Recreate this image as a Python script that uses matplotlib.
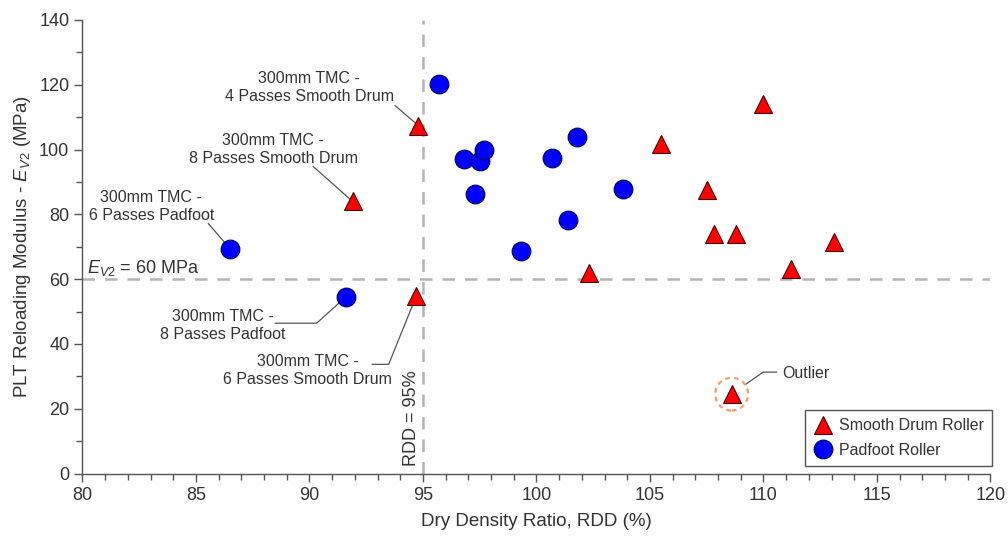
import numpy as np
import matplotlib
matplotlib.use('Agg')
import matplotlib.pyplot as plt
from matplotlib.lines import Line2D

plt.rcParams['font.family'] = ['Liberation Sans', 'DejaVu Sans']
plt.rcParams['mathtext.fontset'] = 'custom'
plt.rcParams['mathtext.rm'] = 'Liberation Sans'
plt.rcParams['mathtext.it'] = 'Liberation Sans:italic'

# datos
smooth_rdd = [94.8, 91.9, 94.7, 102.3, 105.5, 107.5, 107.8, 108.8, 110.0, 111.2, 113.1, 108.6]
smooth_ev2 = [107.4, 84.0, 54.7, 62.0, 101.7, 87.4, 74.0, 74.0, 114.1, 63.0, 71.4, 24.5]
padfoot_rdd = [95.7, 96.8, 97.5, 97.7, 97.3, 99.3, 100.7, 101.8, 101.4, 103.8, 86.5, 91.6]
padfoot_ev2 = [120.3, 97.2, 96.6, 100.0, 86.4, 68.6, 97.4, 103.8, 78.4, 87.7, 69.4, 54.5]

ev2_limit = 60
rdd_limit = 95
outlier_idx = 11

txt_color = '#333333'
ax_color = '#555555'
grey_dash = '#b4b4b4'

fig = plt.figure(figsize=(10.08, 5.39), dpi=100)
ax = fig.add_axes([0.0818, 0.1215, 0.9008, 0.8414])

ax.set_xlim(80, 120)
ax.set_ylim(0, 140)
ax.set_xticks(np.arange(80, 121, 5))
ax.set_xticks(np.arange(80, 121, 1), minor=True)
ax.set_yticks(np.arange(0, 141, 20))
ax.set_yticks(np.arange(0, 141, 10), minor=True)
ax.spines['top'].set_visible(False)
ax.spines['right'].set_visible(False)
for s in ['left', 'bottom']:
    ax.spines[s].set_color(ax_color)
    ax.spines[s].set_linewidth(1.0)
ax.tick_params(which='major', direction='out', length=6, width=1, color=ax_color,
               labelcolor=txt_color, labelsize=13)
ax.tick_params(which='minor', direction='out', length=4, width=1, color=ax_color)

ax.set_xlabel('Dry Density Ratio, RDD (%)', fontsize=13.5, color=txt_color, labelpad=7)
ax.set_ylabel(r'PLT Reloading Modulus - $E_{V2}$ (MPa)', fontsize=13.5, color=txt_color, labelpad=4)

# lineas de referencia
ax.axhline(ev2_limit, color=grey_dash, lw=1.8, dashes=(5, 4), zorder=1)
ax.axvline(rdd_limit, color=grey_dash, lw=1.8, dashes=(5, 4), zorder=1)
ax.text(80.2, 63.3, r'$E_{V2}$ = 60 MPa', fontsize=13, color=txt_color, ha='left', va='center')
ax.text(94.5, 17.1, 'RDD = 95%', fontsize=13, color=txt_color, rotation=90,
        ha='center', va='center')

# puntos
ax.plot(smooth_rdd, smooth_ev2, '^', ms=13.5, mfc='#ff0000', mec='#4a0000', mew=0.8,
        ls='none', zorder=3)
ax.plot(padfoot_rdd, padfoot_ev2, 'o', ms=13.5, mfc='#0000ff', mec='#000055', mew=0.8,
        ls='none', zorder=3)

# circulo del outlier
ax.scatter([smooth_rdd[outlier_idx]], [smooth_ev2[outlier_idx]], s=560, facecolors='none',
           edgecolors='#f2a06a', linewidths=1.6, linestyles=(0, (2.2, 1.8)), zorder=3)

# etiquetas
def label(txt, tx, ty, sx, sy, px, py, cs='arc3', shrink=0):
    ax.text(tx, ty, txt, ha='center', va='center', fontsize=11.5, color=txt_color,
            linespacing=1.25, zorder=4)
    ax.annotate('', xy=(px, py), xytext=(sx, sy),
                arrowprops=dict(arrowstyle='-', color='#555555', lw=0.9, shrinkA=0,
                                shrinkB=shrink, connectionstyle=cs), zorder=2)

label('300mm TMC -\n4 Passes Smooth Drum', 89.98, 119.3, 93.77, 113.6,
      smooth_rdd[0], smooth_ev2[0])
label('300mm TMC -\n8 Passes Smooth Drum', 88.40, 99.9, 90.16, 94.8,
      smooth_rdd[1], smooth_ev2[1])
label('300mm TMC -\n6 Passes Padfoot', 83.03, 82.5, 85.54, 77.2,
      padfoot_rdd[10], padfoot_ev2[10])
label('300mm TMC -\n8 Passes Padfoot', 86.17, 45.6, 88.49, 46.4,
      padfoot_rdd[11], padfoot_ev2[11], cs='angle,angleA=0,angleB=42,rad=0')
label('300mm TMC -\n6 Passes Smooth Drum', 89.92, 31.7, 92.76, 33.7,
      smooth_rdd[2], smooth_ev2[2], cs='angle,angleA=0,angleB=68,rad=0')

ax.text(110.81, 31.0, 'Outlier', ha='left', va='center', fontsize=11.5, color=txt_color)
ax.annotate('', xy=(smooth_rdd[outlier_idx], smooth_ev2[outlier_idx]), xytext=(110.59, 31.3),
            arrowprops=dict(arrowstyle='-', color='#555555', lw=0.9, shrinkA=0, shrinkB=12,
                            connectionstyle='angle,angleA=0,angleB=35,rad=0'), zorder=2)

# leyenda
handles = [Line2D([], [], marker='^', ls='none', ms=13.5, mfc='#ff0000', mec='#4a0000', mew=0.8),
           Line2D([], [], marker='o', ls='none', ms=13.5, mfc='#0000ff', mec='#000055', mew=0.8)]
leg = ax.legend(handles, ['Smooth Drum Roller', 'Padfoot Roller'], loc='lower right',
                bbox_to_anchor=(1.0017, 0.0165), borderaxespad=0, fontsize=11.5,
                frameon=True, fancybox=False, framealpha=1, edgecolor='#555555',
                handlelength=1.2, handletextpad=0.4, borderpad=0.5, labelspacing=0.6)
leg.get_frame().set_linewidth(1.0)
for t in leg.get_texts():
    t.set_color(txt_color)

plt.savefig('out.png', dpi=100)
